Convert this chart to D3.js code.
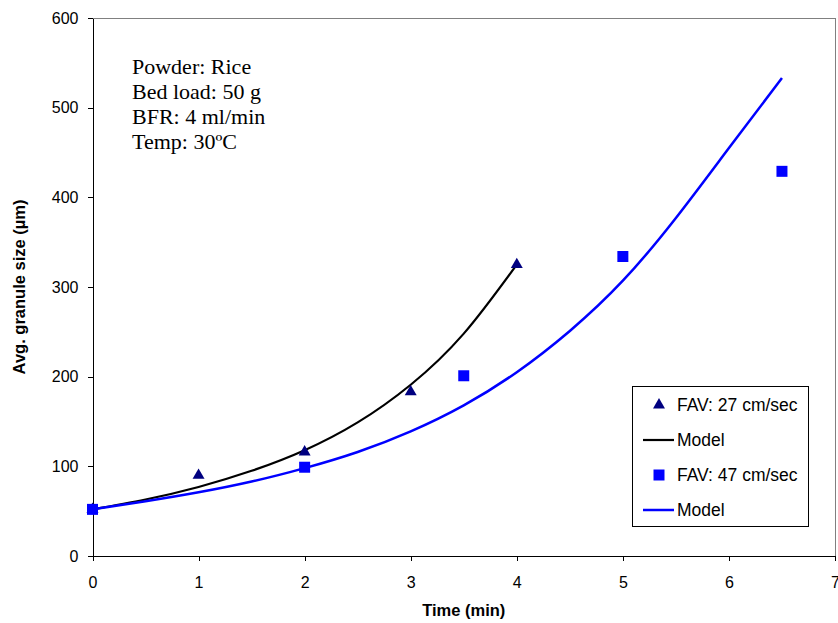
<!DOCTYPE html>
<html>
<head>
<meta charset="utf-8">
<script src="https://cdn.jsdelivr.net/npm/d3@7"></script>
<style>
  body { margin: 0; background: #fff; }
  svg { display: block; }
  .axis text { font-family: Arial, "Liberation Sans", sans-serif; font-size: 16px; fill: #000; }
  .axis path, .axis line { stroke: #000; shape-rendering: crispEdges; }
  .title { font-family: Arial, "Liberation Sans", sans-serif; font-size: 16.5px; font-weight: bold; }
  .note { font-family: "Times New Roman", "Liberation Serif", serif; font-size: 22px; }
  .legend text { font-family: Arial, "Liberation Sans", sans-serif; font-size: 17.5px; }
</style>
</head>
<body>
<div id="chart"></div>
<script>
// measured points
const timeLow = [0, 1, 2, 3, 4];
const sizeLow = [52, 90, 116, 183, 325];
const timeHigh = [0, 2, 3.5, 5, 6.5];
const sizeHigh = [52, 99, 201, 334, 429];

// model curves
const modelTimeLow = [0, 0.5, 1, 1.5, 2, 2.5, 3, 3.5, 4];
const modelSizeLow = [52, 63, 77, 95, 118, 149, 191, 248, 325];
const modelTimeHigh = [0, 0.5, 1, 1.5, 2, 2.5, 3, 3.5, 4, 4.5, 5, 5.5, 6, 6.5];
const modelSizeHigh = [52, 61, 71, 83, 98, 116, 139, 168, 205, 251, 307, 377, 455, 533];

const xTicks = [0, 1, 2, 3, 4, 5, 6, 7];
const yTicks = [0, 100, 200, 300, 400, 500, 600];
const noteLines = ['Powder: Rice', 'Bed load: 50 g', 'BFR: 4 ml/min', 'Temp: 30ºC'];
const legendLabels = ['FAV: 27 cm/sec', 'Model', 'FAV: 47 cm/sec', 'Model'];

const width = 838, height = 623;
const margin = { top: 18, right: 3, bottom: 67, left: 92.5 };

const svg = d3.select('#chart').append('svg')
  .attr('width', width)
  .attr('height', height);

const x = d3.scaleLinear().domain([0, 7]).range([margin.left, width - margin.right]);
const y = d3.scaleLinear().domain([0, 600]).range([height - margin.bottom, margin.top]);

// top and right frame
svg.append('path')
  .attr('d', `M${x(0)},${y(600)}H${x(7)}V${y(0)}`)
  .attr('fill', 'none')
  .attr('stroke', '#808080')
  .attr('shape-rendering', 'crispEdges');

svg.append('g')
  .attr('class', 'axis')
  .attr('transform', `translate(0,${y(0)})`)
  .call(d3.axisBottom(x).tickValues(xTicks).tickFormat(d3.format('d'))
    .tickSize(5).tickSizeOuter(0).tickPadding(16));

svg.append('g')
  .attr('class', 'axis')
  .attr('transform', `translate(${x(0)},0)`)
  .call(d3.axisLeft(y).tickValues(yTicks).tickFormat(d3.format('d'))
    .tickSize(5).tickSizeOuter(0).tickPadding(9));

svg.append('text')
  .attr('class', 'title')
  .attr('x', (x(0) + x(7)) / 2)
  .attr('y', 616)
  .attr('text-anchor', 'middle')
  .text('Time (min)');

svg.append('text')
  .attr('class', 'title')
  .attr('transform', `translate(25,${(y(0) + y(600)) / 2}) rotate(-90)`)
  .attr('text-anchor', 'middle')
  .text('Avg. granule size (µm)');

const note = svg.append('text').attr('class', 'note');
note.selectAll('tspan')
  .data(noteLines)
  .enter()
  .append('tspan')
  .attr('x', 132)
  .attr('y', (d, i) => 74 + i * 25)
  .text(d => d);

const line = d3.line()
  .x(d => x(d[0]))
  .y(d => y(d[1]))
  .curve(d3.curveNatural);

svg.append('path')
  .attr('d', line(d3.zip(modelTimeLow, modelSizeLow)))
  .attr('fill', 'none')
  .attr('stroke', '#000')
  .attr('stroke-width', 2.2);

svg.append('path')
  .attr('d', line(d3.zip(modelTimeHigh, modelSizeHigh)))
  .attr('fill', 'none')
  .attr('stroke', '#0000ff')
  .attr('stroke-width', 2.5);

const tri = d3.symbol().type(d3.symbolTriangle).size(62);
const sq = d3.symbol().type(d3.symbolSquare).size(121);

svg.append('g').selectAll('path')
  .data(d3.zip(timeLow, sizeLow))
  .enter()
  .append('path')
  .attr('d', tri)
  .attr('transform', d => `translate(${x(d[0])},${y(d[1])})`)
  .attr('fill', '#000080');

svg.append('g').selectAll('path')
  .data(d3.zip(timeHigh, sizeHigh))
  .enter()
  .append('path')
  .attr('d', sq)
  .attr('transform', d => `translate(${x(d[0])},${y(d[1])})`)
  .attr('fill', '#0000ff');

// legend
const lg = svg.append('g').attr('class', 'legend');
lg.append('rect')
  .attr('x', 632.5).attr('y', 386.5)
  .attr('width', 176).attr('height', 140)
  .attr('fill', '#fff')
  .attr('stroke', '#000');

const rowY = [405, 440, 475, 510];
lg.append('path').attr('d', tri).attr('transform', `translate(659,${rowY[0]})`).attr('fill', '#000080');
lg.append('line').attr('x1', 643).attr('x2', 674).attr('y1', rowY[1]).attr('y2', rowY[1])
  .attr('stroke', '#000').attr('stroke-width', 2.2);
lg.append('path').attr('d', sq).attr('transform', `translate(659,${rowY[2]})`).attr('fill', '#0000ff');
lg.append('line').attr('x1', 643).attr('x2', 674).attr('y1', rowY[3]).attr('y2', rowY[3])
  .attr('stroke', '#0000ff').attr('stroke-width', 2.5);

lg.selectAll('text.lab')
  .data(legendLabels)
  .enter()
  .append('text')
  .attr('class', 'lab')
  .attr('x', 677)
  .attr('y', (d, i) => rowY[i] + 6)
  .text(d => d);
</script>
</body>
</html>
